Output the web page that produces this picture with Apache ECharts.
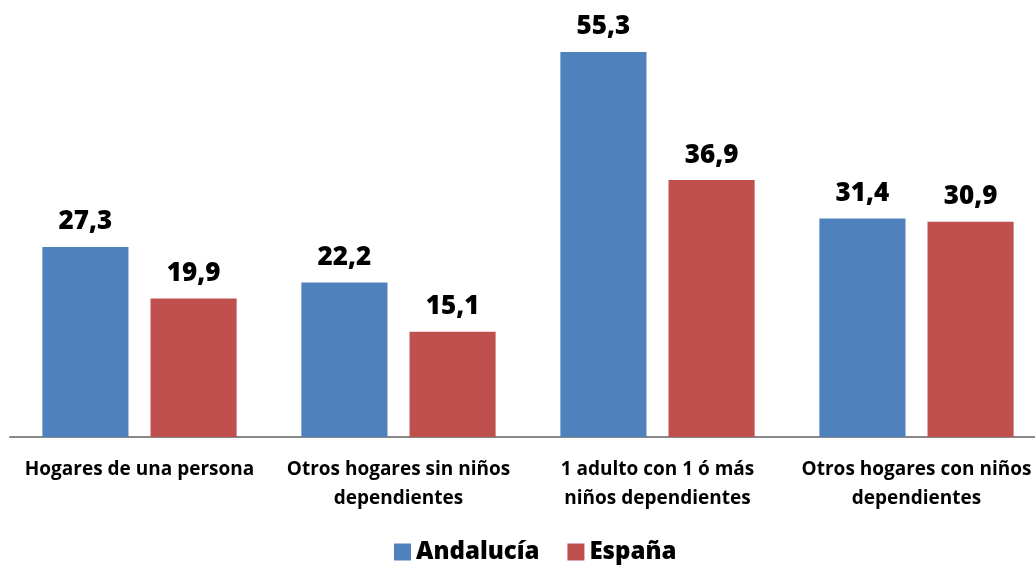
<!DOCTYPE html>
<html>
<head>
<meta charset="utf-8">
<style>
  html, body { margin: 0; padding: 0; background: #fff; }
  #chart { width: 1035px; height: 567px; }
</style>
<script src="https://cdn.jsdelivr.net/npm/echarts@6/dist/echarts.min.js"></script>
</head>
<body>
<div id="chart"></div>
<script>
var categories = [
    'Hogares de una persona',
    'Otros hogares sin niños\ndependientes',
    '1 adulto con 1 ó más\nniños dependientes',
    'Otros hogares con niños\ndependientes'
];
var andalucia = [27.3, 22.2, 55.3, 31.4];
var espana = [19.9, 15.1, 36.9, 30.9];

var font = '"Open Sans", sans-serif';
function fmt(p) { return p.value.toFixed(1).replace('.', ','); }

var chart = echarts.init(document.getElementById('chart'));
chart.setOption({
    animation: false,
    textStyle: { fontFamily: font },
    legend: {
        bottom: -2,
        left: 389,
        itemWidth: 17,
        itemHeight: 17,
        itemGap: 28,
        icon: 'rect',
        textStyle: { fontSize: 24, fontWeight: 800, color: '#000', fontFamily: font },
        data: ['Andalucía', 'España']
    },
    grid: {
        left: 10,
        right: -11,
        top: 52,
        bottom: 130,
        outerBoundsMode: 'none'
    },
    xAxis: {
        type: 'category',
        data: categories,
        axisLine: { lineStyle: { color: '#888', width: 2 } },
        axisTick: { show: false },
        axisLabel: {
            interval: 0,
            margin: 18,
            fontSize: 19,
            fontWeight: 'bold',
            color: '#000',
            lineHeight: 29,
            fontFamily: font
        }
    },
    yAxis: {
        type: 'value',
        min: 0,
        max: 55.3,
        show: false,
        splitLine: { show: false }
    },
    series: [
        {
            name: 'Andalucía',
            type: 'bar',
            data: andalucia,
            barGap: '25.6%',
            barCategoryGap: '25%',
            itemStyle: { color: '#4F81BD' },
            label: {
                show: true, position: 'top', distance: 12,
                fontSize: 26, fontWeight: 800, color: '#000', fontFamily: font,
                formatter: fmt
            }
        },
        {
            name: 'España',
            type: 'bar',
            data: espana,
            itemStyle: { color: '#C0504D' },
            label: {
                show: true, position: 'top', distance: 12,
                fontSize: 26, fontWeight: 800, color: '#000', fontFamily: font,
                formatter: fmt
            }
        }
    ]
});
</script>
</body>
</html>
